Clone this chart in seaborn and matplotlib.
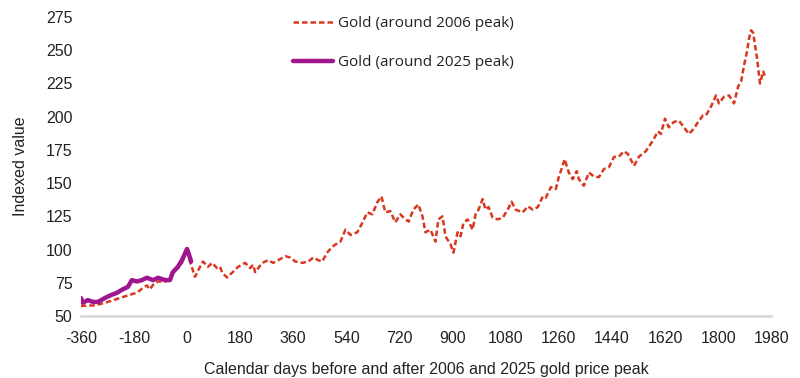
import matplotlib
matplotlib.use('Agg')
import matplotlib.pyplot as plt
import pandas as pd
import seaborn as sns

# gold indexed to 100 at the peak, days relative to the peak
days_2006 = [-360, -312, -268, -221, -194, -170, -153, -136, -126, -115, -98, -75, -58, -48,
             -31, -17, 0, 10, 27, 44, 54, 71, 85, 102, 112, 119, 136, 153, 173, 197, 214, 224,
             231, 255, 275, 292, 309, 333, 350, 367, 391, 411, 428, 445, 458, 475, 492, 503,
             520, 537, 554, 577, 594, 611, 628, 645, 659, 672, 689, 706, 723, 734, 751, 767,
             784, 798, 808, 825, 842, 852, 866, 876, 893, 903, 917, 927, 937, 951, 968, 978,
             988, 1002, 1012, 1022, 1036, 1053, 1070, 1087, 1100, 1114, 1138, 1155, 1172, 1189,
             1206, 1216, 1233, 1250, 1260, 1273, 1280, 1294, 1307, 1321, 1328, 1345, 1362, 1379,
             1396, 1413, 1430, 1447, 1464, 1481, 1494, 1515, 1532, 1555, 1579, 1596, 1606, 1620,
             1633, 1650, 1667, 1681, 1701, 1718, 1732, 1749, 1759, 1776, 1793, 1803, 1820, 1837,
             1854, 1868, 1878, 1888, 1898, 1905, 1912, 1919, 1925, 1932, 1939, 1942, 1953, 1958]
gold_2006 = [57.6, 58, 60.6, 64, 66, 67.5, 70.5, 73, 70, 73.5, 76, 76, 77, 82.5,
             86, 90, 100, 91, 79.5, 87, 91, 87, 90, 86, 87, 82.6, 79, 82.6, 87, 90, 86, 88.6,
             83, 90, 92, 90, 92, 95, 94, 91, 90, 91, 94, 92, 91, 97.7, 102, 103.8,
             106, 115, 111, 113, 120, 128, 126.5, 135.6, 140, 128, 129, 120.5, 126.5, 124, 121, 130,
             134, 125, 113, 115, 106, 122.7, 125, 110, 104, 97.7, 113, 110, 120, 122.7, 115, 126.5,
             130, 138, 130, 132, 124, 122.7, 124, 130, 136, 130, 128, 132.6, 130, 132,
             140, 139, 147, 145.5, 154.5, 163, 168, 158, 153, 159, 153, 148, 158, 155,
             154.5, 160.6, 162, 169.7, 170, 174, 172, 163, 170, 174, 182, 189, 187, 198.5,
             192, 196, 197, 193, 187, 191, 196, 201, 201, 207.6, 216, 210, 215, 216,
             210, 222.7, 226.5, 238.6, 249, 259, 265, 263, 254, 244, 231, 225, 234, 231]

days_2025 = [-360, -353, -336, -319, -302, -278, -255, -238, -221, -200, -187, -170, -153,
             -136, -115, -98, -75, -58, -48, -31, -17, 0, 7, 14]
gold_2025 = [63.6, 60, 62, 60.6, 60.6, 63.6, 66, 67.4, 69.7, 72, 77, 76, 77,
             78.8, 77, 78.8, 77, 77, 83, 87, 92, 100.5, 96, 91]

x_ticks = list(range(-360, 1981, 180))
y_ticks = list(range(50, 276, 25))

sns.set_style('white')
plt.rcParams['font.family'] = ['Liberation Sans', 'DejaVu Sans']
plt.rcParams['axes.unicode_minus'] = False

df06 = pd.DataFrame({'day': days_2006, 'value': gold_2006})
df25 = pd.DataFrame({'day': days_2025, 'value': gold_2025})

fig = plt.figure(figsize=(8, 3.78), dpi=100)
ax = fig.add_axes([0.101, 0.164, 0.863, 0.791])

sns.lineplot(data=df06, x='day', y='value', ax=ax, color='#d8381f', linewidth=1.8,
             label='Gold (around 2006 peak)')
ax.lines[0].set_dashes((2.2, 1.2))
sns.lineplot(data=df25, x='day', y='value', ax=ax, color='#a0168e', linewidth=3.2,
             label='Gold (around 2025 peak)')

ax.set_xlim(-360, 1980)
ax.set_ylim(50, 275)
ax.set_xticks(x_ticks)
ax.set_yticks(y_ticks)
ax.tick_params(axis='both', length=0, labelsize=11.5, colors='#222222')
ax.tick_params(axis='x', pad=11)
ax.tick_params(axis='y', pad=6)
ax.set_xlabel('Calendar days before and after 2006 and 2025 gold price peak', fontsize=11.5,
              color='#222222', labelpad=11)
ax.set_ylabel('Indexed value', fontsize=11.5, color='#222222', labelpad=13)

for s in ['top', 'right', 'left']:
    ax.spines[s].set_visible(False)
ax.spines['bottom'].set_color('#d9d9d9')
ax.spines['bottom'].set_linewidth(2)

leg = ax.legend(loc='upper left', bbox_to_anchor=(293 / 800, 1 - 16 / 378),
                bbox_transform=fig.transFigure, frameon=False,
                borderpad=0, borderaxespad=0, handlelength=2.6, handletextpad=0.35,
                labelspacing=1.6, prop={'family': ['Open Sans', 'DejaVu Sans'], 'size': 11})
for t in leg.get_texts():
    t.set_color('#222222')

fig.savefig('out.png', dpi=100)
